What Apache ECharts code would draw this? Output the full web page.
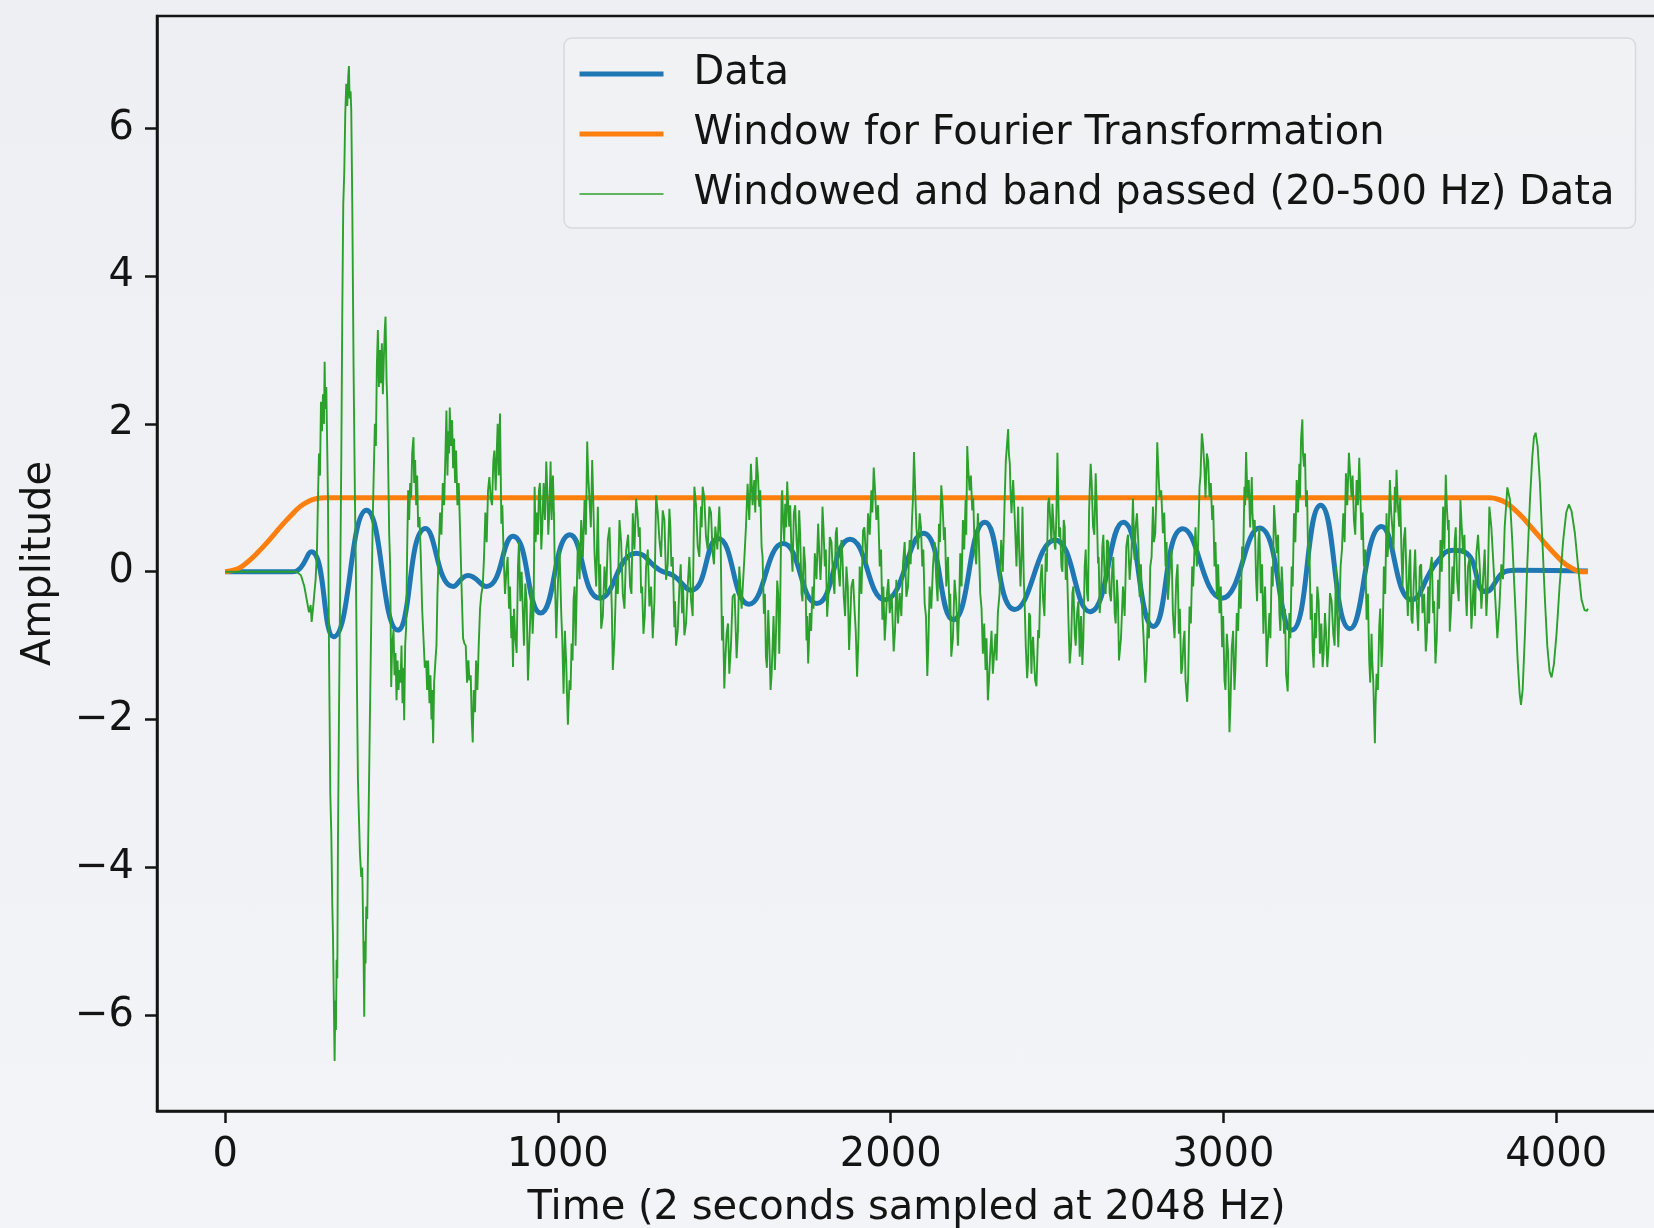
<!DOCTYPE html>
<html>
<head>
<meta charset="utf-8">
<script src="https://cdn.jsdelivr.net/npm/echarts@6/dist/echarts.min.js"></script>
<style>
  html, body { margin: 0; padding: 0; }
  body { background: linear-gradient(180deg, #edeff2 0%, #f1f2f5 60%, #f3f4f7 100%); }
  #main { width: 1654px; height: 1228px; }
</style>
</head>
<body>
<div id="main"></div>
<script>
// tick positions
var xTicks = [0, 1000, 2000, 3000, 4000];
var yTicks = [-6, -4, -2, 0, 2, 4, 6];

var seriesNames = ['Data', 'Window for Fourier Transformation', 'Windowed and band passed (20-500 Hz) Data'];

// blue: the raw data (smooth curve, extrema)
var dataPoints = [
  [0, 0], [200, 0], [215, 0.01], [259, 0.27], [326, -0.88], [425, 0.83], [519, -0.79],
  [602, 0.585], [685, -0.2], [730, -0.05], [785, -0.2], [865, 0.48], [948, -0.56],
  [1036, 0.5], [1126, -0.36], [1236, 0.25], [1306, 0.02], [1346, -0.05], [1401, -0.25],
  [1481, 0.45], [1574, -0.44], [1677, 0.38], [1778, -0.43], [1878, 0.44], [1983, -0.38],
  [2098, 0.52], [2188, -0.65], [2283, 0.67], [2373, -0.51], [2494, 0.43], [2599, -0.54],
  [2699, 0.67], [2789, -0.74], [2878, 0.58], [2995, -0.36], [3108, 0.59], [3205, -0.79],
  [3292, 0.9], [3380, -0.77], [3475, 0.61], [3566, -0.38], [3641, 0.13], [3691, 0.29],
  [3731, 0.25], [3789, -0.27], [3852, 0.01], [3880, 0.02], [4095, 0.01]
];

// orange: tapered window
var windowPoints = [
  [0, 0], [25, 0.02], [50, 0.07], [75, 0.16], [100, 0.27], [125, 0.39], [150, 0.52],
  [175, 0.65], [200, 0.77], [225, 0.88], [250, 0.95], [275, 0.99], [300, 1],
  [3800, 1], [3825, 0.98], [3850, 0.93], [3875, 0.84], [3900, 0.73], [3925, 0.6],
  [3950, 0.47], [3975, 0.34], [4000, 0.22], [4025, 0.11], [4050, 0.04], [4075, 0], [4095, 0]
];

// green: windowed + band passed data, main trace
var bandPoints = [
  [0, 0], [215, 0], [228, -0.05], [238, -0.2], [246, -0.4], [252, -0.55], [257, -0.45], [260, -0.68],
  [264, -0.5], [268, -0.3], [272, -0.1], [276, 0.3], [279, 1.0], [282, 1.6], [285, 1.3], [288, 2.3],
  [291, 1.9], [294, 2.4], [297, 2.0], [299, 2.84], [301, 2.2], [304, 2.5], [306, 1.9], [309, 1.0],
  [312, -1.0], [316, -3.0], [319, -3.54], [322, -4.5], [324, -4.9], [326, -5.6], [329, -6.62],
  [331, -5.8], [333, -6.2], [335, -5.25], [337, -5.5], [339, -3.67], [342, -2.0], [346, 0.0],
  [349, 1.5], [352, 3.5], [355, 4.98], [358, 5.4], [361, 6.2], [364, 6.6], [367, 6.3], [370, 6.7],
  [372, 6.84], [374, 6.4], [377, 6.5], [379, 6.24], [382, 5.0], [386, 2.73], [390, 1.0], [393, 0.0],
  [396, -1.5], [399, -2.8], [402, -3.31], [405, -3.8], [409, -4.13], [412, -4.0], [414, -4.58],
  [416, -5.2], [418, -6.02], [420, -5.0], [422, -5.3], [424, -4.53], [427, -4.7], [429, -3.9],
  [432, -3.0], [434, -2.32], [438, -1.0], [441, 0.0], [444, 0.8], [447, 1.42], [450, 2.0], [453, 1.7],
  [456, 2.8], [459, 3.27], [462, 2.5], [465, 3.0], [468, 2.55], [471, 3.09], [474, 2.4], [477, 2.9],
  [480, 3.3], [482, 3.45], [485, 2.6], [487, 2.32], [490, 1.42], [493, 0.5], [496, 0.07],
  [499, -1.56], [502, -1.0], [506, -0.79], [509, -1.4], [512, -1.1], [515, -1.74], [518, -1.2],
  [521, -1.6], [524, -1.33], [527, -1.5], [530, -1.0], [533, -1.78], [536, -1.3], [538, -2.01],
  [541, -1.0], [544, -0.74], [547, 0.3], [550, 1.1], [553, 0.7], [556, 1.2], [559, 1.0], [562, 1.6],
  [566, 1.82], [568, 1.2], [571, 1.51], [574, 0.9], [577, 1.3], [580, 0.6], [584, 0.74], [588, 0.2],
  [592, -0.5], [596, -0.9], [600, -1.3], [604, -1.2], [607, -1.6], [610, -1.2], [614, -1.78],
  [617, -1.4], [620, -2.0], [622, -1.6], [625, -2.32], [628, -1.5], [632, -1.2], [635, -1.0],
  [638, -0.3], [642, 0.3], [646, 0.8], [650, 0.5], [654, 1.2], [658, 0.9], [662, 1.6], [665, 2.18],
  [668, 1.3], [671, 1.9], [673, 1.6], [675, 2.22], [678, 1.7], [682, 2.05], [685, 1.4], [688, 1.8],
  [691, 1.2], [694, 1.64], [698, 0.9], [702, 1.2], [707, 0.4], [711, -0.3], [715, -0.9], [719, -0.97],
  [723, -1.0], [727, -1.5], [731, -1.2], [734, -1.47], [738, -1.4], [741, -2.0], [744, -2.31],
  [747, -1.6], [751, -1.9], [754, -1.2], [758, -1.6], [762, -1.0], [766, -0.5], [770, -0.3],
  [774, -0.2], [778, 0.2], [782, 0.8], [786, 0.4], [790, 1.1], [794, 1.28], [798, 1.0], [802, 0.9],
  [806, 1.5], [809, 1.64], [813, 1.1], [816, 1.6], [819, 2.0], [822, 1.3], [826, 2.14], [830, 0.65],
  [837, 0.2], [845, 0.0], [853, -0.5], [860, -0.9], [865, -1.29], [872, -0.9], [880, 0.07],
  [887, -0.4], [895, -0.6], [902, -0.16], [910, -1.47], [917, -0.6], [924, -0.84], [930, 1.15],
  [937, 0.8], [943, 1.1], [950, 0.3], [957, 1.2], [965, 1.49], [971, 0.5], [978, 1.49], [985, 1.3],
  [991, -0.1], [1000, -0.16], [1010, -0.56], [1017, -1.65], [1025, -1.24], [1030, -2.07],
  [1035, -1.47], [1041, -0.97], [1047, -0.38], [1053, -1.0], [1060, 0.43], [1070, 0.7], [1080, 0.97],
  [1088, 1.76], [1095, 0.97], [1103, 1.51], [1110, 0.25], [1120, 0.88], [1125, -0.38], [1130, -0.77],
  [1140, 0.07], [1150, 0.43], [1160, -0.2], [1165, -1.33], [1175, -0.1], [1185, 0.7], [1195, -0.3],
  [1205, 0.29], [1217, -0.2], [1225, 0.79], [1235, 0.99], [1243, 0.47], [1250, -0.29], [1257, -0.84],
  [1265, 0.07], [1275, -0.47], [1285, -0.9], [1295, 1.03], [1305, 0.43], [1315, 0.83], [1325, -0.11],
  [1335, 0.85], [1341, 0.07], [1350, -0.75], [1355, -1.0], [1365, -0.2], [1373, -0.56], [1380, -0.86],
  [1390, -0.2], [1400, -0.38], [1410, 1.15], [1420, 0.34], [1430, 0.88], [1435, 1.15], [1445, 0.47],
  [1455, 0.88], [1465, 0.25], [1473, 0.61], [1485, 0.88], [1493, -0.93], [1500, -1.58], [1507, -0.83],
  [1515, -1.38], [1525, -0.34], [1537, -1.17], [1545, 0.07], [1560, 0.16], [1570, 1.19], [1580, 1.46],
  [1590, 1.24], [1597, 1.55], [1605, 0.88], [1612, 0.34], [1619, -0.57], [1625, -1.15], [1632, -0.52],
  [1639, -1.6], [1645, -1.02], [1652, -1.33], [1659, -0.12], [1665, -1.11], [1672, 0.97], [1677, 0.65],
  [1683, 0.92], [1689, 1.22], [1695, 0.61], [1702, 0.25], [1709, 0.79], [1717, 0.43], [1725, 0.83],
  [1732, -0.29], [1739, 0.34], [1747, -0.93], [1752, -1.24], [1757, -0.56], [1765, -0.2], [1772, 0.25],
  [1782, 0.65], [1789, -0.11], [1795, 0.88], [1802, 0.07], [1809, -0.61], [1817, 0.47], [1827, -0.11],
  [1835, 0.52], [1842, 0.07], [1852, 0.43], [1859, -0.34], [1867, 0.07], [1875, -1.06], [1882, -0.2],
  [1892, -0.56], [1899, -1.42], [1907, 0.07], [1917, 0.56], [1925, 0.25], [1932, 0.79], [1942, 1.1],
  [1949, 1.41], [1957, 0.7], [1967, 0.07], [1975, -0.65], [1982, -0.93], [1989, -0.29], [1997, -0.56],
  [2009, -1.08], [2017, -0.11], [2027, -0.29], [2037, 0.11], [2047, -0.34], [2057, 0.43], [2064, 0.7],
  [2070, 1.62], [2077, 0.61], [2087, 0.79], [2095, 0.07], [2102, -0.43], [2110, -1.41], [2117, -0.2],
  [2127, 0.07], [2137, -0.11], [2145, 0.65], [2152, 1.17], [2160, 0.43], [2167, -0.2], [2177, -0.56],
  [2182, -1.15], [2192, -0.11], [2202, -1.0], [2209, 0.25], [2217, 0.7], [2225, 0.97], [2230, 1.7],
  [2237, 1.1], [2245, 0.83], [2252, 0.34], [2262, 0.79], [2269, -0.29], [2277, -1.11], [2285, -1.33],
  [2292, -1.74], [2299, -1.11], [2307, -1.38], [2315, -0.84], [2322, -0.56], [2332, 0.43], [2342, 0.88],
  [2346, 1.51], [2353, 1.93], [2358, 1.46], [2363, 0.79], [2368, 1.24], [2373, 0.7], [2378, 0.07],
  [2383, 0.88], [2390, -0.2], [2396, 0.88], [2400, -0.11], [2406, -1.02], [2410, -1.44], [2416, -0.56],
  [2423, -1.38], [2428, -0.88], [2434, -1.47], [2438, -1.55], [2443, -0.79], [2450, -0.11], [2458, -0.38],
  [2466, 0.25], [2473, 0.92], [2480, 0.65], [2486, 0.92], [2493, 0.34], [2498, 0.79], [2501, 1.61],
  [2506, 0.47], [2513, 0.07], [2520, 0.7], [2526, -0.11], [2533, -0.47], [2538, -1.24], [2546, -0.29],
  [2553, -0.84], [2560, -0.56], [2568, -1.15], [2576, -1.26], [2583, 0.07], [2590, -0.29], [2596, 0.79],
  [2601, 1.46], [2608, 0.61], [2616, 1.33], [2623, 0.11], [2628, -0.56], [2636, 0.34], [2643, -0.11],
  [2650, 0.43], [2658, -0.29], [2666, 0.07], [2673, -0.56], [2680, -0.11], [2686, -1.2], [2698, -0.2],
  [2708, 0.34], [2718, -0.11], [2728, 0.99], [2733, 0.16], [2740, 0.79], [2748, -0.34], [2756, -0.56],
  [2765, -1.5], [2773, -0.56], [2780, 0.07], [2788, 0.88], [2795, 0.52], [2801, 1.75], [2808, 1.01],
  [2818, 0.52], [2826, 0.07], [2833, -0.38], [2840, 0.11], [2848, -0.56], [2858, -0.11], [2866, -0.84],
  [2873, -1.38], [2880, -0.93], [2886, -1.47], [2891, -1.76], [2898, -0.47], [2906, 0.07], [2913, 0.34],
  [2920, 0.07], [2928, 1.15], [2935, 1.87], [2943, 1.37], [2950, 1.6], [2958, 1.01], [2966, 0.7],
  [2973, 0.07], [2980, -0.34], [2988, -0.56], [2996, -1.02], [3003, -1.47], [3010, -0.84], [3018, -2.17],
  [3025, -1.02], [3033, -1.6], [3040, -0.56], [3048, -0.11], [3056, 0.34], [3063, 1.15], [3068, 1.62],
  [3076, 1.24], [3085, 1.28], [3090, 0.56], [3098, -0.11], [3105, 0.43], [3112, -0.29], [3120, -0.84],
  [3125, -0.2], [3130, -1.29], [3138, -0.56], [3145, 0.07], [3152, 0.9], [3160, 0.25], [3168, -0.56],
  [3175, 0.07], [3182, -0.84], [3188, -1.38], [3193, -1.62], [3198, -0.56], [3205, 0.07], [3212, 0.79],
  [3220, 1.24], [3228, 1.46], [3233, 1.78], [3237, 2.06], [3242, 1.42], [3248, 0.88], [3255, 0.07],
  [3262, -0.65], [3268, -1.06], [3275, -0.56], [3282, -0.2], [3290, -1.11], [3298, -1.29], [3305, -0.56],
  [3312, -1.29], [3320, -0.29], [3330, -0.84], [3338, 0.07], [3345, -1.02], [3352, 0.07], [3360, 0.79],
  [3368, 1.33], [3377, 1.61], [3385, 1.01], [3392, 0.7], [3400, 1.24], [3408, 1.54], [3415, 0.43],
  [3422, 0.07], [3430, -0.65], [3438, -1.2], [3445, -0.84], [3450, -1.47], [3455, -2.32], [3460, -1.38],
  [3468, -0.75], [3475, -1.29], [3482, 0.07], [3490, 0.79], [3496, 0.43], [3500, 1.24], [3508, 0.56],
  [3515, 1.15], [3520, 1.38], [3528, 0.61], [3535, 0.25], [3542, 0.43], [3550, -0.11], [3558, 0.07],
  [3565, -0.65], [3572, -0.11], [3580, -0.34], [3590, 0.07], [3598, -0.56], [3608, -1.08], [3615, -0.2],
  [3622, 0.07], [3630, -0.56], [3637, -1.24], [3645, -0.11], [3652, 0.43], [3660, 0.88], [3668, 1.31],
  [3675, 0.56], [3680, -0.81], [3688, 0.07], [3695, 0.43], [3702, -0.11], [3712, 0.97], [3720, 0.25],
  [3728, -0.29], [3735, 0.07], [3745, -0.77], [3752, -0.11], [3760, 0.25], [3770, 0.07], [3780, -0.11],
  [3790, -0.6], [3799, 0.88], [3810, 0.2], [3823, -0.9], [3835, 0.1], [3845, 0.6], [3853, 1.14],
  [3861, 0.97], [3868, 0.4], [3876, -0.38], [3884, -1.2], [3890, -1.65], [3894, -1.8], [3899, -1.6],
  [3906, -0.83], [3913, 0.1], [3921, 0.97], [3928, 1.55], [3933, 1.82], [3938, 1.88], [3944, 1.7],
  [3951, 1.19], [3958, 0.45], [3966, -0.38], [3973, -1.0], [3980, -1.35], [3986, -1.43], [3993, -1.25],
  [4001, -0.83], [4010, -0.2], [4021, 0.43], [4030, 0.8], [4038, 0.91], [4046, 0.82], [4056, 0.52],
  [4066, 0.05], [4076, -0.38], [4085, -0.52], [4092, -0.53], [4095, -0.5]
];

// green: the finer sample-to-sample wiggle between the points above
var bandJitter = [
  [833, 0.9], [841, -0.3], [849, 0.2], [856, -0.2], [862, -0.6], [868, -0.5], [876, -1.1], [883, 0.4],
  [891, 0.0], [898, -1.0], [906, -0.4], [913, -1.1], [920, -0.2], [927, -0.5], [933, 0.4], [940, 0.5],
  [946, 1.2], [953, 0.6], [961, 0.7], [968, 1.1], [974, 0.8], [981, 0.7], [988, 0.8], [995, -0.9],
  [1005, 0.3], [1013, -0.9], [1021, -0.8], [1027, -1.6], [1032, -1.8], [1038, -1.6], [1044, -1.2],
  [1050, -0.2], [1056, -0.4], [1065, -0.1], [1075, 0.2], [1084, 0.5], [1091, 1.3], [1099, 0.6],
  [1106, 1.0], [1115, -0.2], [1122, 0.3], [1127, 0.1], [1135, -0.6], [1145, -0.3], [1155, 0.6],
  [1162, -0.5], [1170, -0.9], [1180, -0.3], [1190, 0.4], [1200, -0.5], [1211, 0.5], [1221, -0.3],
  [1230, 0.3], [1239, 0.8], [1246, 0.6], [1253, -0.2], [1261, -0.6], [1270, 0.3], [1280, -0.2],
  [1290, -0.4], [1300, 0.8], [1310, 0.2], [1320, 0.7], [1330, 0.1], [1338, 0.6], [1345, 0.2],
  [1352, -0.4], [1360, -0.8], [1369, 0.1], [1376, -0.2], [1385, -0.7], [1395, 0.2], [1405, -0.6],
  [1415, 0.9], [1425, 0.2], [1432, 0.6], [1440, 1.0], [1450, 0.3], [1460, 0.8], [1469, 0.1],
  [1479, 0.3], [1489, 0.4], [1496, -0.6], [1503, -1.2], [1511, -0.7], [1520, -1.0], [1531, -0.3],
  [1541, -0.8], [1552, -0.5], [1565, 0.6], [1575, 0.7], [1585, 0.9], [1593, 0.8], [1601, 1.3],
  [1608, 1.1], [1615, 0.2], [1622, -0.3], [1628, -1.3], [1635, -0.9], [1642, -1.4], [1648, -0.6],
  [1655, -0.9], [1662, -0.3], [1668, -0.4], [1674, 1.1], [1680, 0.4], [1686, 0.6], [1692, 0.9],
  [1698, 0.9], [1705, 0.0], [1713, 0.9], [1721, 0.1], [1728, 0.5], [1735, -0.4], [1743, 0.1],
  [1749, -0.6], [1754, -1.0], [1761, -0.8], [1768, -0.5], [1777, -0.1], [1785, 0.3], [1792, 0.2],
  [1798, 0.6], [1805, 0.3], [1813, -0.3], [1822, 0.4], [1831, -0.3], [1838, 0.6], [1847, -0.2],
  [1855, 0.2], [1863, -0.6], [1871, -0.2], [1878, -0.7], [1887, -0.1], [1895, -0.8], [1903, -0.9],
  [1912, -0.3], [1921, 0.6], [1928, 0.1], [1937, 0.5], [1945, 0.8], [1953, 1.1], [1962, 0.9],
  [1971, 0.3], [1978, -0.2], [1985, -0.7], [1993, -0.1], [2003, -0.3], [2013, -0.8], [2022, -0.7],
  [2032, -0.6], [2042, 0.4], [2052, -0.2], [2060, 0.1], [2067, 1.0], [2073, 1.2], [2082, 0.3],
  [2091, 0.6], [2098, 0.3], [2106, -0.6], [2113, -1.0], [2122, -0.5], [2132, 0.4], [2141, -0.4],
  [2148, 0.4], [2156, 0.9], [2163, 0.6], [2172, 0.2], [2179, -0.3], [2187, -0.9], [2197, -0.4],
  [2205, -0.6], [2213, -0.2], [2221, 0.3], [2227, 0.5], [2233, 1.4], [2241, 1.3], [2248, 1.0],
  [2257, 0.1], [2265, 0.4], [2273, -0.5], [2281, -0.7], [2288, -0.9], [2295, -1.5], [2303, -0.8],
  [2311, -1.1], [2318, -1.2], [2327, -0.3], [2337, 0.0], [2344, 0.9], [2355, 1.6], [2360, 1.1],
  [2380, 0.4], [2386, 0.3], [2393, 0.2], [2403, -0.5], [2413, -1.2], [2419, -0.6], [2425, -1.0],
  [2431, -1.2], [2446, -0.9], [2454, 0.1], [2462, -0.6], [2469, 0.0], [2476, 1.0], [2483, 0.4],
  [2489, 0.9], [2495, 0.3], [2509, 0.6], [2516, 0.0], [2523, 0.6], [2529, 0.2], [2535, -0.8],
  [2542, -1.0], [2549, -0.2], [2556, -1.0], [2564, -0.4], [2572, -0.6], [2579, -0.9], [2586, 0.3],
  [2593, -0.4], [2598, 1.1], [2604, 1.2], [2612, 0.5], [2619, 0.9], [2625, 0.2], [2632, -0.3],
  [2639, 0.5], [2646, -0.3], [2654, 0.4], [2662, -0.4], [2669, 0.2], [2676, -0.7], [2683, -0.4],
  [2692, -0.9], [2703, -0.6], [2713, 0.5], [2723, 0.2], [2736, 0.6], [2744, 0.4], [2752, 0.1],
  [2760, -0.9], [2769, -1.2], [2776, -0.9], [2784, 0.2], [2791, 0.4], [2798, 1.0], [2804, 1.4],
  [2813, 1.1], [2822, 0.8], [2829, 0.4], [2836, -0.4], [2844, 0.3], [2853, -0.9], [2862, 0.1],
  [2869, -0.5], [2876, -1.3], [2883, -0.8], [2894, -1.4], [2902, -0.7], [2909, -0.2], [2916, 0.6],
  [2924, 0.4], [2931, 1.3], [2939, 1.7], [2946, 1.0], [2954, 1.5], [2962, 1.2], [2969, 0.9],
  [2976, 0.4], [2984, 0.1], [2992, -0.2], [2999, -0.6], [3006, -1.6], [3014, -1.1], [3021, -1.8],
  [3029, -0.8], [3036, -1.3], [3044, -0.8], [3052, -0.5], [3059, 0.1], [3065, 0.9], [3072, 1.0],
  [3080, 0.6], [3087, 0.8], [3094, 0.7], [3101, -0.4], [3108, 0.6], [3116, 0.1], [3122, -0.5],
  [3127, -0.6], [3134, -0.9], [3141, -0.9], [3148, -0.2], [3156, 0.6], [3164, 0.5], [3171, -0.8],
  [3178, -0.2], [3185, -0.5], [3195, -1.2], [3201, -0.9], [3208, -0.2], [3216, 0.4], [3224, 0.8],
  [3230, 1.0], [3239, 1.6], [3245, 1.6], [3251, 1.1], [3258, 0.4], [3265, -0.3], [3271, -1.3],
  [3278, -0.9], [3286, -0.4], [3294, -0.7], [3301, -1.1], [3308, -0.8], [3316, -1.0], [3325, -0.4],
  [3334, -1.0], [3341, -0.5], [3348, -0.6], [3356, 0.3], [3364, 0.4], [3372, 0.9], [3381, 1.3],
  [3388, 1.3], [3396, 0.5], [3404, 0.9], [3411, 1.1], [3418, 0.8], [3426, 0.3], [3434, -0.3],
  [3441, -1.5], [3447, -1.2], [3457, -1.8], [3464, -1.6], [3471, -0.5], [3478, -1.0], [3486, -0.3],
  [3493, 0.2], [3504, 0.8], [3511, 0.3], [3517, 0.8], [3524, 0.9], [3531, 1.0], [3538, -0.2],
  [3546, 0.6], [3554, -0.6], [3561, 0.3], [3568, -0.7], [3576, 0.3], [3585, -0.8], [3594, 0.1],
  [3603, -0.3], [3611, -0.9], [3618, -0.7], [3626, 0.2], [3633, -0.4], [3641, -0.9], [3648, -0.5],
  [3656, 0.0], [3664, 0.3], [3671, 0.9], [3677, 0.7], [3684, -0.5], [3691, -0.3], [3698, 0.6],
  [3707, -0.4], [3716, 0.6], [3724, 0.5], [3731, -0.6], [3740, 0.2], [3748, -0.5], [3756, -0.6],
  [3765, 0.5], [3775, -0.5], [3785, 0.3], [3794, -0.2], [3805, 0.6], [3816, -0.3], [3829, -0.5],
  [3840, -0.1]
];

var bandSeries = bandPoints.concat(bandJitter).sort(function (a, b) { return a[0] - b[0]; });

var chart = echarts.init(document.getElementById('main'));
var font = 'DejaVu Sans';
var ink = '#141414';

function minusSign(v) {
  return v < 0 ? '\u2212' + Math.abs(v) : String(v);
}

var option = {
  animation: false,
  backgroundColor: 'transparent',
  grid: {
    left: 157, top: 16, width: 1499, height: 1095,
    show: true, borderColor: ink, borderWidth: 2.5,
    outerBoundsMode: 'none'
  },
  legend: {
    orient: 'vertical',
    left: 564, top: 38,
    itemWidth: 84, itemHeight: 40, itemGap: 20,
    padding: [16, 21, 14, 13],
    backgroundColor: 'rgba(241,242,245,0.85)',
    borderColor: '#d8d9dc', borderWidth: 1.5, borderRadius: 8,
    itemStyle: { opacity: 0 },
    textStyle: { fontFamily: font, fontSize: 40, color: ink, padding: [0, 0, 0, 25] },
    data: [
      { name: seriesNames[0], lineStyle: { width: 5 } },
      { name: seriesNames[1], lineStyle: { width: 5 } },
      { name: seriesNames[2], lineStyle: { width: 1.6 } }
    ]
  },
  xAxis: {
    type: 'value',
    min: -204.75, max: 4299.75,
    name: 'Time (2 seconds sampled at 2048 Hz)',
    nameLocation: 'middle', nameGap: 78,
    nameTextStyle: { fontFamily: font, fontSize: 40, color: ink },
    axisLine: { show: true, onZero: false, lineStyle: { color: ink, width: 2.5 } },
    axisTick: { show: true, length: 12, lineStyle: { color: ink, width: 2.5 }, customValues: xTicks },
    axisLabel: {
      customValues: xTicks, fontFamily: font, fontSize: 40, color: ink, margin: 25,
      formatter: function (v) { return String(v); }
    },
    splitLine: { show: false }
  },
  yAxis: {
    type: 'value',
    min: -7.295, max: 7.517,
    name: 'Amplitude',
    nameLocation: 'middle', nameGap: 97,
    nameTextStyle: { fontFamily: font, fontSize: 40, color: ink },
    axisLine: { show: true, onZero: false, lineStyle: { color: ink, width: 2.5 } },
    axisTick: { show: true, length: 12, lineStyle: { color: ink, width: 2.5 }, customValues: yTicks },
    axisLabel: { customValues: yTicks, fontFamily: font, fontSize: 40, color: ink, margin: 23, formatter: minusSign },
    splitLine: { show: false }
  },
  series: [
    {
      name: seriesNames[0], type: 'line', data: dataPoints,
      symbol: 'none', showSymbol: false, smooth: 0.5,
      lineStyle: { color: '#1f77b4', width: 5 }, itemStyle: { color: '#1f77b4' }
    },
    {
      name: seriesNames[1], type: 'line', data: windowPoints,
      symbol: 'none', showSymbol: false, smooth: 0.4,
      lineStyle: { color: '#ff7f0e', width: 5 }, itemStyle: { color: '#ff7f0e' }
    },
    {
      name: seriesNames[2], type: 'line', data: bandSeries,
      symbol: 'none', showSymbol: false,
      lineStyle: { color: '#2ca02c', width: 1.9 }, itemStyle: { color: '#2ca02c' }
    }
  ]
};

chart.setOption(option);
</script>
</body>
</html>
